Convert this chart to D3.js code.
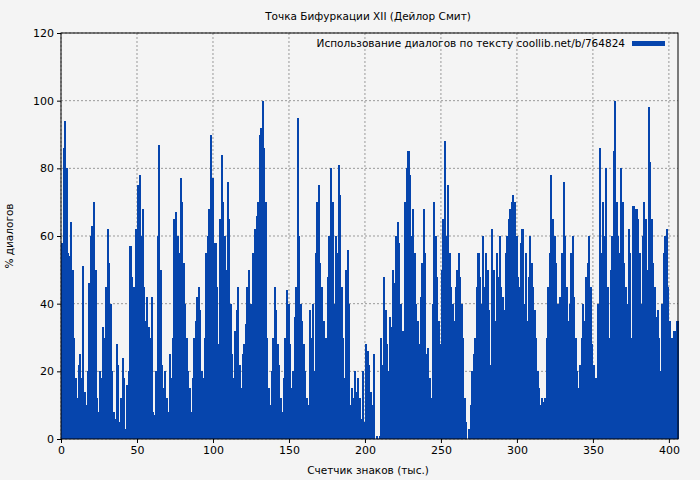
<!DOCTYPE html>
<html><head><meta charset="utf-8">
<script src="https://cdn.jsdelivr.net/npm/d3@7"></script>
<style>body{margin:0;background:#f4f4f4;font-family:"DejaVu Sans",sans-serif;}</style>
</head><body><svg id="c" width="700" height="480"></svg>
<script>
const values = [
58,86,94,80,55,54,64,50,30,18,
12,22,25,18,51,14,10,20,46,60,
63,70,50,12,8,20,18,33,30,45,
62,52,40,20,8,6,28,22,5,12,
24,18,3,16,20,57,48,45,38,62,
75,78,60,68,45,35,42,33,30,42,
8,7,20,60,87,50,22,15,20,12,
8,25,18,30,65,67,60,55,77,70,
52,40,30,20,15,8,18,30,35,42,
45,38,20,18,30,55,60,68,90,77,
52,58,45,28,65,84,70,60,50,76,
65,40,25,18,32,38,45,22,15,25,
28,34,45,50,40,36,55,62,66,70,
90,92,100,86,70,30,15,10,20,30,
45,38,28,22,12,8,18,30,44,40,
28,15,20,36,45,95,60,40,35,28,
20,12,10,38,30,40,20,55,70,75,
52,45,35,22,30,48,60,80,70,40,
60,55,81,72,45,30,18,50,56,40,
10,15,12,20,14,18,12,6,20,5,
28,26,22,14,10,25,0,1,0,1,
30,22,48,38,28,20,36,33,50,46,
60,64,58,40,32,25,70,80,85,78,
60,68,55,40,35,28,42,52,68,55,
25,27,18,12,40,70,60,48,35,28,
50,65,88,60,75,55,45,40,35,45,
50,55,48,40,30,12,5,0,3,10,
20,25,30,45,55,48,40,60,45,55,
50,38,22,62,50,35,55,48,60,45,
42,38,55,60,65,68,70,72,70,60,
48,45,58,62,40,55,35,48,60,52,
45,38,30,20,15,10,12,11,12,30,
45,55,78,65,60,52,40,30,42,55,
76,60,45,35,40,55,60,42,30,20,
15,22,30,40,35,48,52,60,45,28,
22,18,12,40,86,55,70,60,80,45,
30,50,60,85,100,70,60,55,80,70,
52,45,40,62,55,30,69,60,68,65,
55,40,60,70,65,50,98,82,65,52,
45,36,38,30,20,40,55,60,62,45,
35,30,25,32,30,35];
const xTicks = [0,50,100,150,200,250,300,350,400];
const yTicks = [0,20,40,60,80,100,120];
const title = "Точка Бифуркации XII (Дейлор Смит)";
const legendLabel = "Использование диалогов по тексту coollib.net/b/764824";
const xLabel = "Счетчик знаков (тыс.)";
const yLabel = "% диалогов";
const color = "#0645ad";

const svg = d3.select("#c");
const L=61,R=678,T=33,B=439;
const x = d3.scaleLinear().domain([0,406]).range([L,R]);
const y = d3.scaleLinear().domain([0,120]).range([B,T]);
svg.append("rect").attr("width",700).attr("height",480).attr("fill","#f4f4f4");
const g = svg.append("g");
g.selectAll(".gx").data(xTicks).join("line").attr("x1",d=>x(d)).attr("x2",d=>x(d)).attr("y1",T).attr("y2",B)
 .attr("stroke","#999").attr("stroke-dasharray","2,2");
g.selectAll(".gy").data(yTicks).join("line").attr("y1",d=>y(d)).attr("y2",d=>y(d)).attr("x1",L).attr("x2",R)
 .attr("stroke","#999").attr("stroke-dasharray","2,2");
svg.append("g").attr("shape-rendering","crispEdges").selectAll("rect").data(values).join("rect")
 .attr("x",(d,i)=>x(i)).attr("width",x(1)-x(0)+0.6).attr("y",d=>y(d)).attr("height",d=>B-y(d)).attr("fill",color);
svg.append("rect").attr("x",L).attr("y",T).attr("width",R-L).attr("height",B-T).attr("fill","none").attr("stroke","#000");
const ax = svg.append("g").attr("transform",`translate(0,${B})`).call(d3.axisBottom(x).tickValues(xTicks).tickSize(4).tickSizeOuter(0));
const ay = svg.append("g").attr("transform",`translate(${L},0)`).call(d3.axisLeft(y).tickValues(yTicks).tickSize(4).tickSizeOuter(0));
[ax,ay].forEach(a=>{a.select(".domain").remove();a.selectAll("text").attr("font-size",11).attr("font-family","DejaVu Sans").attr("fill","#000");});
svg.append("text").attr("x",368).attr("y",20).attr("text-anchor","middle").attr("font-size",10.5).text(title);
svg.append("text").attr("x",368).attr("y",474).attr("text-anchor","middle").attr("font-size",10.5).text(xLabel);
svg.append("text").attr("transform","translate(13,236) rotate(-90)").attr("text-anchor","middle").attr("font-size",10.5).text(yLabel);
svg.append("text").attr("x",625).attr("y",47).attr("text-anchor","end").attr("font-size",10.5).text(legendLabel);
svg.append("rect").attr("x",632).attr("y",41).attr("width",33).attr("height",5).attr("fill",color);
</script></body></html>
